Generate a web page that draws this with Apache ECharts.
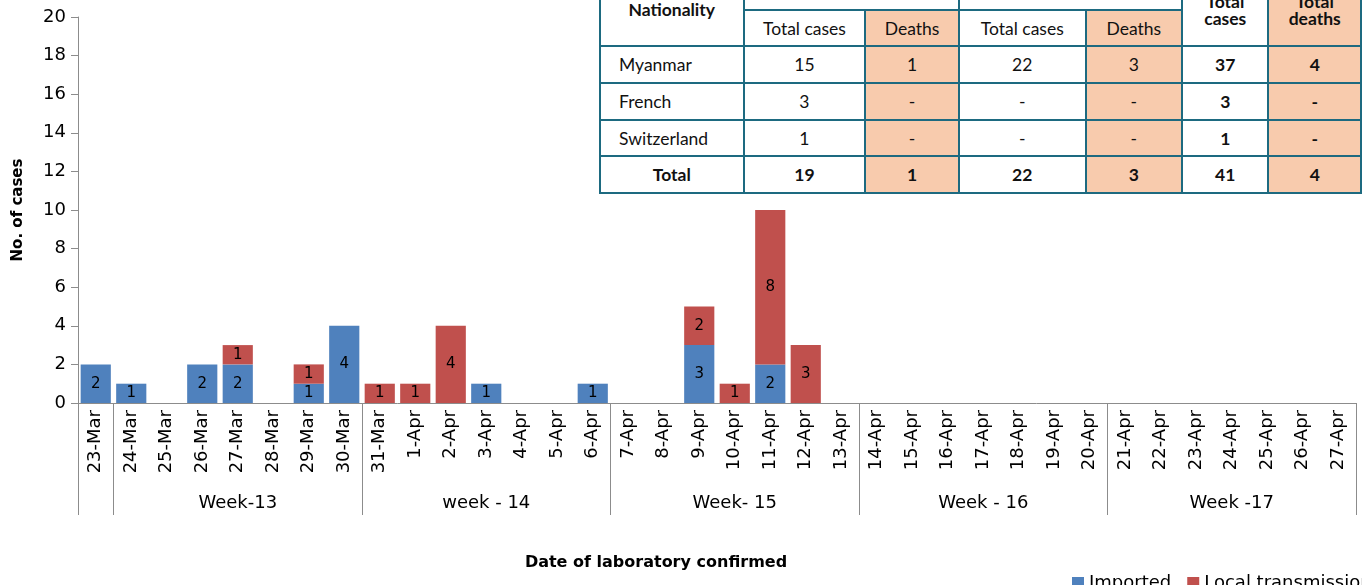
<!DOCTYPE html>
<html>
<head>
<meta charset="utf-8">
<script src="https://cdn.jsdelivr.net/npm/echarts@6/dist/echarts.min.js"></script>
<style>
  html, body { margin: 0; padding: 0; width: 1362px; height: 585px; overflow: hidden; background: #fff; }
  #chart { position: absolute; left: 0; top: 0; width: 1362px; height: 585px; }
  #tbl { position: absolute; left: 599px; top: -28px; border-collapse: collapse; table-layout: fixed;
         font-family: Lato, "Open Sans", sans-serif; font-size: 17.5px; color: #111; background: #fff; }
  #tbl td { border: 2px solid #1d6a80; height: 34.7px; padding: 0; text-align: center; }
  #tbl td.nat { text-align: left; padding-left: 18px; }
  #tbl td.d { background: #f8cbad; }
  #tbl .b { font-weight: bold; }
</style>
</head>
<body>
<div id="chart"></div>
<table id="tbl">
  <colgroup>
    <col style="width:144px"><col style="width:123px"><col style="width:94px"><col style="width:128px">
    <col style="width:97px"><col style="width:87px"><col style="width:93px">
  </colgroup>
  <tr>
    <td rowspan="2" class="b" style="vertical-align:middle">Nationality</td>
    <td colspan="2"></td>
    <td colspan="2"></td>
    <td rowspan="2" class="b" style="line-height:17px">Total<br>cases</td>
    <td rowspan="2" class="b d" style="line-height:17px">Total<br>deaths</td>
  </tr>
  <tr>
    <td>Total cases</td><td class="d">Deaths</td><td>Total cases</td><td class="d">Deaths</td>
  </tr>
  <tr>
    <td class="nat">Myanmar</td><td>15</td><td class="d">1</td><td>22</td><td class="d">3</td><td class="b">37</td><td class="b d">4</td>
  </tr>
  <tr>
    <td class="nat">French</td><td>3</td><td class="d">-</td><td>-</td><td class="d">-</td><td class="b">3</td><td class="b d">-</td>
  </tr>
  <tr>
    <td class="nat">Switzerland</td><td>1</td><td class="d">-</td><td>-</td><td class="d">-</td><td class="b">1</td><td class="b d">-</td>
  </tr>
  <tr>
    <td class="b">Total</td><td class="b">19</td><td class="b d">1</td><td class="b">22</td><td class="b d">3</td><td class="b">41</td><td class="b d">4</td>
  </tr>
</table>
<script>
const dates = ['23-Mar', '24-Mar', '25-Mar', '26-Mar', '27-Mar', '28-Mar', '29-Mar', '30-Mar',
  '31-Mar', '1-Apr', '2-Apr', '3-Apr', '4-Apr', '5-Apr', '6-Apr',
  '7-Apr', '8-Apr', '9-Apr', '10-Apr', '11-Apr', '12-Apr', '13-Apr',
  '14-Apr', '15-Apr', '16-Apr', '17-Apr', '18-Apr', '19-Apr', '20-Apr',
  '21-Apr', '22-Apr', '23-Apr', '24-Apr', '25-Apr', '26-Apr', '27-Apr']
const imported = [2, 1, 0, 2, 2, 0, 1, 4, 0, 0, 0, 1, 0, 0, 1, 0, 0, 3, 0, 2, 0, 0,
  0, 0, 0, 0, 0, 0, 0, 0, 0, 0, 0, 0, 0, 0]
const local = [0, 0, 0, 0, 1, 0, 1, 0, 1, 1, 4, 0, 0, 0, 0, 0, 0, 2, 1, 8, 3, 0,
  0, 0, 0, 0, 0, 0, 0, 0, 0, 0, 0, 0, 0, 0]
const weekNames = ['', 'Week-13', 'week - 14', 'Week- 15', 'Week - 16', 'Week -17']
const weekStarts = [0, 1, 8, 15, 22, 29]
const weekEnds = [0, 7, 14, 21, 28, 35]

// week label sits on the middle day of each group
const weekRow = dates.map(() => '')
weekNames.forEach((w, i) => {
  weekRow[Math.floor((weekStarts[i] + weekEnds[i]) / 2)] = w
})

const font = 'DejaVu Sans, Verdana, sans-serif'
const chart = echarts.init(document.getElementById('chart'))

const barLabel = {
  show: true,
  position: 'inside',
  color: '#000',
  fontSize: 15,
  fontFamily: font
}

const option = {
  animation: false,
  grid: { left: 78, right: 6, top: 17, bottom: 182 },
  legend: {
    left: 1067,
    top: 569,
    width: 600,
    itemWidth: 12,
    itemHeight: 12,
    itemGap: 16,
    icon: 'rect',
    textStyle: { fontSize: 18, fontFamily: font, color: '#000' },
    data: ['Imported', 'Local transmission']
  },
  graphic: [{
    type: 'text',
    x: 656,
    y: 563,
    style: {
      text: 'Date of laboratory confirmed',
      font: 'bold 16px DejaVu Sans, Verdana, sans-serif',
      fill: '#000',
      textAlign: 'center',
      textVerticalAlign: 'middle'
    }
  }],
  xAxis: [
    {
      type: 'category',
      data: dates,
      axisLine: { lineStyle: { color: '#8c8c8c' } },
      axisTick: { show: false },
      axisLabel: { interval: 0, rotate: 90, margin: 7, fontSize: 18, fontFamily: font, color: '#000' }
    },
    {
      type: 'category',
      data: weekRow,
      position: 'bottom',
      axisLine: { show: false },
      axisTick: {
        show: true,
        length: 112,
        lineStyle: { color: '#8c8c8c', width: 1 },
        interval: (i) => weekStarts.indexOf(i) >= 0
      },
      axisLabel: { interval: 0, margin: 91, fontSize: 18, fontFamily: font, color: '#000' }
    }
  ],
  yAxis: {
    type: 'value',
    min: 0,
    max: 20,
    interval: 2,
    name: 'No. of cases',
    nameLocation: 'middle',
    nameGap: 52,
    nameTextStyle: { fontSize: 15, fontWeight: 'bold', fontFamily: font, color: '#000' },
    axisLine: { show: true, lineStyle: { color: '#8c8c8c' } },
    axisTick: { show: true, length: 7, lineStyle: { color: '#8c8c8c' } },
    splitLine: { show: false },
    axisLabel: { fontSize: 18, fontFamily: font, color: '#000', margin: 12 }
  },
  series: [
    {
      name: 'Imported',
      type: 'bar',
      stack: 'cases',
      barCategoryGap: '15%',
      itemStyle: { color: '#4f81bd' },
      label: barLabel,
      data: imported.map(v => (v === 0 ? '-' : v))
    },
    {
      name: 'Local transmission',
      type: 'bar',
      stack: 'cases',
      barCategoryGap: '15%',
      itemStyle: { color: '#c0504d' },
      label: barLabel,
      data: local.map(v => (v === 0 ? '-' : v))
    }
  ]
}

chart.setOption(option)
</script>
</body>
</html>
